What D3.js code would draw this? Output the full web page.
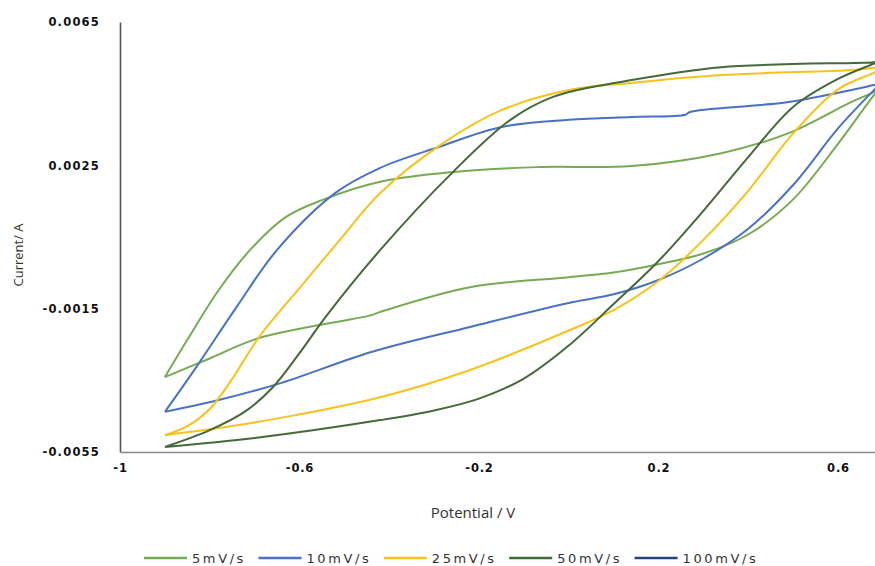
<!DOCTYPE html>
<html>
<head>
<meta charset="utf-8">
<script src="https://cdn.jsdelivr.net/npm/d3@7"></script>
<style>
  html, body { margin: 0; padding: 0; background: #fff; }
  svg { display: block; }
</style>
</head>
<body>
<svg id="chart" width="875" height="566"></svg>
<script>
// Cyclic voltammograms at several scan rates: [potential (V), current (A)]
// Each loop starts at the negative vertex, runs the anodic branch, then returns.
const scanRates = ["5mV/s", "10mV/s", "25mV/s", "50mV/s", "100mV/s"];
const seriesColors = ["#77ab53", "#4a72c4", "#f8c21a", "#45693a", "#264478"];

const loop5 = [
  [-0.90, -0.00341], [-0.85, -0.00237], [-0.78, -0.00098], [-0.71, 0.00014],
  [-0.63, 0.00106], [-0.55, 0.00153], [-0.42, 0.00204], [-0.26, 0.00231],
  [-0.07, 0.00245], [0.14, 0.00248], [0.34, 0.00284], [0.49, 0.00340],
  [0.63, 0.00427], [0.68, 0.00455], [0.695, 0.00468],
  [0.68, 0.00446], [0.60, 0.00310], [0.50, 0.00155], [0.40, 0.00057],
  [0.30, 0.00004], [0.20, -0.00026], [0.10, -0.00049], [0.00, -0.00062],
  [-0.22, -0.00090], [-0.42, -0.00159], [-0.44, -0.00168], [-0.69, -0.00232],
  [-0.80, -0.00289], [-0.90, -0.00341]
];

const loop10 = [
  [-0.90, -0.00438], [-0.83, -0.00313], [-0.74, -0.00145], [-0.65, 0.00014],
  [-0.52, 0.00173], [-0.42, 0.00243], [-0.29, 0.00301], [-0.15, 0.00357],
  [0.00, 0.00377], [0.14, 0.00385], [0.26, 0.00391], [0.27, 0.00399],
  [0.49, 0.00427], [0.68, 0.00474], [0.694, 0.00478],
  [0.68, 0.00460], [0.60, 0.00353], [0.50, 0.00195], [0.40, 0.00073],
  [0.30, -0.00010], [0.20, -0.00070], [0.10, -0.00110], [0.00, -0.00134],
  [-0.22, -0.00201], [-0.44, -0.00271], [-0.64, -0.00357], [-0.78, -0.00405],
  [-0.90, -0.00438]
];

const loop25 = [
  [-0.90, -0.00503], [-0.85, -0.00478], [-0.80, -0.00430], [-0.75, -0.00346],
  [-0.69, -0.00229], [-0.59, -0.00078], [-0.51, 0.00042], [-0.42, 0.00173],
  [-0.28, 0.00312], [-0.15, 0.00404], [0.00, 0.00460], [0.14, 0.00480],
  [0.34, 0.00502], [0.63, 0.00516], [0.68, 0.00522], [0.71, 0.00526],
  [0.68, 0.00508], [0.60, 0.00462], [0.50, 0.00339], [0.40, 0.00179],
  [0.30, 0.00042], [0.20, -0.00073], [0.10, -0.00154], [0.00, -0.00211],
  [-0.22, -0.00321], [-0.42, -0.00397], [-0.63, -0.00452], [-0.78, -0.00483],
  [-0.90, -0.00503]
];

const loop50 = [
  [-0.90, -0.00536], [-0.80, -0.00489], [-0.72, -0.00436], [-0.66, -0.00370],
  [-0.60, -0.00274], [-0.54, -0.00170], [-0.42, 0.00014], [-0.26, 0.00229],
  [-0.13, 0.00377], [-0.035, 0.00441], [0.14, 0.00488], [0.34, 0.00524],
  [0.68, 0.00538], [0.69, 0.00540],
  [0.68, 0.00534], [0.60, 0.00491], [0.50, 0.00413], [0.40, 0.00273],
  [0.30, 0.00123], [0.20, -0.00017], [0.10, -0.00137], [0.00, -0.00253],
  [-0.10, -0.00345], [-0.20, -0.00401], [-0.30, -0.00434], [-0.42, -0.00461],
  [-0.70, -0.00511], [-0.90, -0.00536]
];

const loop100 = [];

const loops = [loop5, loop10, loop25, loop50, loop100];

const xTicks = [-1, -0.6, -0.2, 0.2, 0.6];
const yTicks = [0.0065, 0.0025, -0.0015, -0.0055];

const svg = d3.select("#chart");
const W = 875, H = 566;
const plotLeft = 120, plotTop = 22, plotBottom = 452;

const x = d3.scaleLinear().domain([-1, 1]).range([plotLeft, plotLeft + 2 * 448.75]);
const y = d3.scaleLinear().domain([-0.0055, 0.0065]).range([plotBottom, plotTop]);

svg.append("defs").append("clipPath").attr("id", "plotClip")
  .append("rect").attr("x", plotLeft).attr("y", plotTop - 4)
  .attr("width", W - plotLeft).attr("height", plotBottom - plotTop + 4);

// Axes (no tick marks, bold labels)
const yAxis = d3.axisLeft(y).tickValues(yTicks).tickSize(0).tickPadding(20)
  .tickFormat(d => d3.format(".4f")(d).replace("−", "-"));
const gy = svg.append("g").attr("transform", `translate(${plotLeft},0)`).call(yAxis);
gy.select(".domain").attr("stroke", "#555").attr("stroke-width", 1.6);
gy.selectAll("text")
  .attr("font-family", "DejaVu Sans, Verdana, sans-serif")
  .attr("font-size", 11.5).attr("font-weight", "bold")
  .attr("letter-spacing", "1.2px").attr("fill", "#111");

const xAxis = d3.axisBottom(x).tickValues(xTicks).tickSize(0).tickPadding(12)
  .tickFormat(d => String(d));
const gx = svg.append("g").attr("transform", `translate(0,${plotBottom})`).call(xAxis);
gx.select(".domain").attr("stroke", "#888").attr("stroke-width", 1.6);
gx.selectAll("text")
  .attr("font-family", "DejaVu Sans, Verdana, sans-serif")
  .attr("font-size", 11.5).attr("font-weight", "bold")
  .attr("letter-spacing", "0.8px").attr("fill", "#111");

// Axis titles
svg.append("text")
  .attr("x", 473).attr("y", 518).attr("text-anchor", "middle")
  .attr("font-family", "Open Sans, DejaVu Sans, sans-serif")
  .attr("font-size", 15).attr("fill", "#333")
  .text("Potential / V");

svg.append("text")
  .attr("transform", "translate(23,255) rotate(-90)")
  .attr("text-anchor", "middle")
  .attr("font-family", "Open Sans, DejaVu Sans, sans-serif")
  .attr("font-size", 13).attr("fill", "#333")
  .text("Current/ A");

// Voltammogram loops
const line = d3.line()
  .x(d => x(d[0])).y(d => y(d[1]))
  .curve(d3.curveCatmullRom.alpha(0.5));

const plot = svg.append("g").attr("clip-path", "url(#plotClip)");
loops.forEach((pts, i) => {
  if (!pts.length) return;
  plot.append("path")
    .datum(pts)
    .attr("d", line)
    .attr("fill", "none")
    .attr("stroke", seriesColors[i])
    .attr("stroke-width", 2)
    .attr("stroke-linejoin", "round");
});

// Legend
const legend = svg.append("g").attr("transform", "translate(0,558)");
let lx = 144;
scanRates.forEach((name, i) => {
  legend.append("line")
    .attr("x1", lx).attr("x2", lx + 43).attr("y1", 0).attr("y2", 0)
    .attr("stroke", seriesColors[i]).attr("stroke-width", 2.5);
  const t = legend.append("text")
    .attr("x", lx + 48).attr("y", 4.5)
    .attr("font-family", "DejaVu Sans, Verdana, sans-serif")
    .attr("font-size", 13).attr("letter-spacing", "2.6px")
    .attr("fill", "#333")
    .text(name);
  lx += 48 + t.node().getComputedTextLength() + 12.5;
});
</script>
</body>
</html>
